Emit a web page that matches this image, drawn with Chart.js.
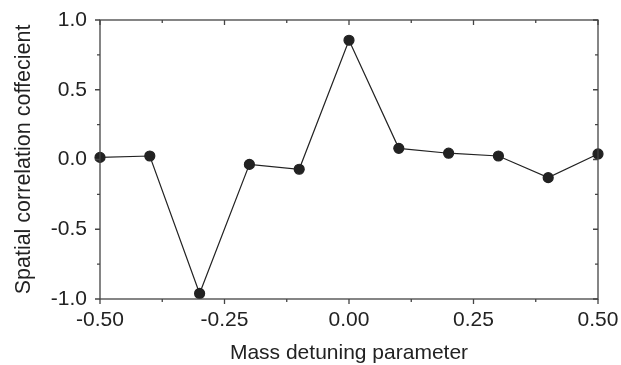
<!DOCTYPE html>
<html>
<head>
<meta charset="utf-8">
<script src="https://cdn.jsdelivr.net/npm/chart.js@4"></script>
<style>
  html, body { margin: 0; padding: 0; background: #fff; }
  #wrap { width: 621px; height: 365px; }
</style>
</head>
<body>
<div id="wrap"><canvas id="chart" width="621" height="365"></canvas></div>
<script>
// Data
const detuning = [-0.5, -0.4, -0.3, -0.2, -0.1, 0.0, 0.1, 0.2, 0.3, 0.4, 0.5];
const correlation = [0.015, 0.025, -0.96, -0.035, -0.07, 0.855, 0.08, 0.045, 0.025, -0.13, 0.04];
const xMajorTicks = [-0.5, -0.25, 0, 0.25, 0.5];
const xMinorTicks = [-0.375, -0.125, 0.125, 0.375];
const yMajorTicks = [-1, -0.5, 0, 0.5, 1];
const yMinorTicks = [-0.75, -0.25, 0.25, 0.75];

const ink = '#222';
const frameColor = '#444';
const family = '"Liberation Sans", Arial, Helvetica, sans-serif';
const font = { family: family, size: 21 };

// Frame and tick marks: left/bottom outward, top/right inward
const framePlugin = {
  id: 'frame',
  afterDraw(chart) {
    const { ctx, chartArea: a, scales: { x, y } } = chart;
    ctx.save();
    ctx.strokeStyle = frameColor;
    ctx.lineWidth = 1.3;
    ctx.strokeRect(a.left, a.top, a.right - a.left, a.bottom - a.top);
    ctx.beginPath();
    const xt = (v, len) => {
      const px = x.getPixelForValue(v);
      ctx.moveTo(px, a.bottom); ctx.lineTo(px, a.bottom + len);
      ctx.moveTo(px, a.top); ctx.lineTo(px, a.top + len);
    };
    const yt = (v, len) => {
      const py = y.getPixelForValue(v);
      ctx.moveTo(a.left, py); ctx.lineTo(a.left - len, py);
      ctx.moveTo(a.right, py); ctx.lineTo(a.right - len, py);
    };
    xMajorTicks.forEach(v => xt(v, 5));
    xMinorTicks.forEach(v => xt(v, 3));
    yMajorTicks.forEach(v => yt(v, 5));
    yMinorTicks.forEach(v => yt(v, 3));
    ctx.stroke();
    ctx.restore();
  }
};

const noPad = s => { s.paddingLeft = 0; s.paddingRight = 0; s.paddingTop = 0; s.paddingBottom = 0; };

new Chart(document.getElementById('chart').getContext('2d'), {
  type: 'scatter',
  data: {
    datasets: [{
      data: detuning.map((d, i) => ({ x: d, y: correlation[i] })),
      showLine: true,
      borderColor: ink,
      borderWidth: 1.2,
      backgroundColor: ink,
      pointBackgroundColor: ink,
      pointBorderColor: ink,
      pointRadius: 5,
      pointHoverRadius: 5,
      clip: false
    }]
  },
  options: {
    responsive: false,
    animation: false,
    layout: { padding: { top: 20, right: 23, left: 0, bottom: 0 } },
    plugins: { legend: { display: false }, tooltip: { enabled: false } },
    scales: {
      x: {
        type: 'linear',
        min: -0.5,
        max: 0.5,
        afterBuildTicks: s => { s.ticks = xMajorTicks.map(v => ({ value: v })); },
        afterFit: s => { s.height = 66; noPad(s); },
        grid: { display: false, drawTicks: false },
        border: { display: false },
        ticks: {
          color: ink,
          font: font,
          padding: 9,
          maxRotation: 0,
          callback: v => v.toFixed(2)
        },
        title: {
          display: true,
          text: 'Mass detuning parameter',
          color: ink,
          font: { family: family, size: 21, lineHeight: 1.0 },
          padding: { top: 0, bottom: 1 }
        }
      },
      y: {
        type: 'linear',
        min: -1,
        max: 1,
        afterBuildTicks: s => { s.ticks = yMajorTicks.map(v => ({ value: v })); },
        afterFit: s => { s.width = 100; noPad(s); },
        grid: { display: false, drawTicks: false },
        border: { display: false },
        ticks: {
          color: ink,
          font: font,
          padding: 13,
          callback: v => v.toFixed(1)
        },
        title: {
          display: true,
          text: 'Spatial correlation coffecient',
          color: ink,
          font: { family: family, size: 21.5, lineHeight: 1.0 },
          padding: { top: 13, bottom: 0 }
        }
      }
    }
  },
  plugins: [framePlugin]
});
</script>
</body>
</html>
